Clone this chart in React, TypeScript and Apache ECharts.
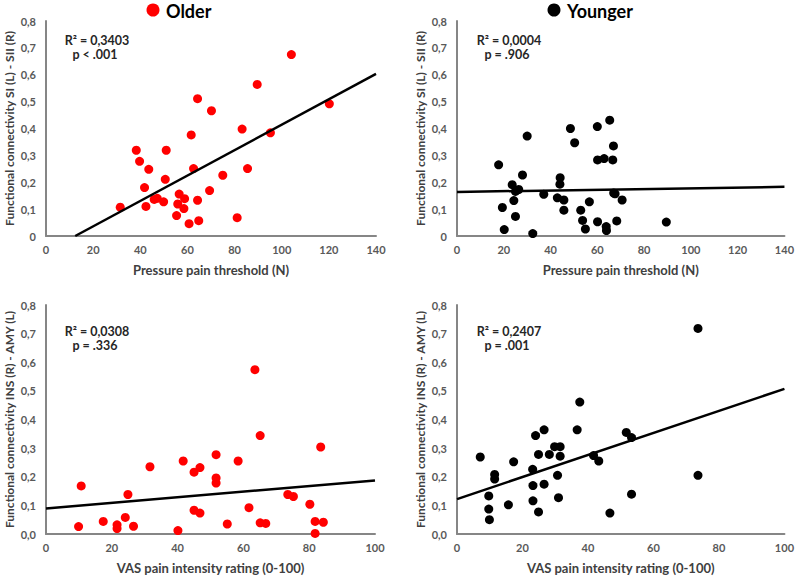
import React, { useEffect, useRef } from "react";
import * as echarts from "echarts";

// Top-left: Older, pressure pain threshold vs FC SI(L)-SII(R)
const olderPptX = [31.5, 38.3, 39.7, 43.6, 41.8, 42.4, 45.9, 47.2, 49.9, 50.6, 51.0, 55.4, 55.9, 56.5, 58.5, 58.8, 60.7, 61.6, 62.6, 64.3, 64.3, 64.8, 69.4, 70.2, 75.0, 81.1, 83.2, 85.5, 89.6, 95.2, 104.1, 120.2];
const olderPptY = [0.107, 0.319, 0.278, 0.248, 0.180, 0.110, 0.136, 0.140, 0.127, 0.211, 0.319, 0.076, 0.119, 0.156, 0.102, 0.139, 0.046, 0.376, 0.251, 0.511, 0.133, 0.057, 0.169, 0.466, 0.226, 0.068, 0.398, 0.251, 0.564, 0.384, 0.675, 0.492];
const olderPptFit = [[12.4, 0.0], [140, 0.603]];

// Top-right: Younger, pressure pain threshold
const youngerPptX = [17.8, 19.4, 20.2, 23.6, 24.3, 25.0, 25.0, 26.4, 28.0, 30.0, 32.4, 37.1, 42.9, 44.0, 44.1, 48.5, 45.7, 45.7, 50.3, 52.9, 53.7, 54.9, 56.6, 60.0, 60.1, 60.1, 62.9, 63.8, 63.9, 65.3, 66.6, 66.9, 67.0, 67.6, 68.3, 70.6, 89.5];
const youngerPptY = [0.265, 0.106, 0.024, 0.191, 0.132, 0.166, 0.073, 0.173, 0.227, 0.372, 0.009, 0.155, 0.142, 0.193, 0.217, 0.400, 0.134, 0.096, 0.347, 0.096, 0.058, 0.026, 0.127, 0.407, 0.283, 0.053, 0.288, 0.035, 0.020, 0.431, 0.283, 0.335, 0.160, 0.157, 0.056, 0.134, 0.052];
const youngerPptFit = [[0, 0.164], [140, 0.183]];

// Bottom-left: Older, VAS vs FC INS(R)-AMY(L)
const olderVasX = [9.9, 10.7, 17.4, 21.6, 21.6, 24.1, 24.9, 26.6, 31.6, 40.1, 41.7, 45.0, 45.0, 46.8, 46.8, 51.7, 51.7, 51.7, 55.1, 58.4, 61.7, 63.5, 65.1, 65.1, 66.8, 73.5, 75.2, 80.2, 81.8, 81.8, 83.5, 84.3];
const olderVasY = [0.026, 0.168, 0.044, 0.032, 0.019, 0.058, 0.138, 0.027, 0.235, 0.012, 0.255, 0.216, 0.083, 0.232, 0.073, 0.277, 0.196, 0.178, 0.035, 0.255, 0.092, 0.574, 0.344, 0.039, 0.037, 0.138, 0.131, 0.104, 0.044, 0.002, 0.304, 0.041];
const olderVasFit = [[0, 0.089], [100, 0.187]];

// Bottom-right: Younger, VAS
const youngerVasX = [7.1, 9.7, 9.7, 9.9, 11.5, 11.5, 15.7, 17.3, 23.1, 23.2, 23.2, 24.0, 24.9, 24.9, 26.6, 26.6, 28.2, 29.8, 30.7, 31.0, 31.5, 31.5, 36.7, 37.5, 41.7, 43.3, 46.7, 51.7, 53.3, 53.3, 73.6, 73.6];
const youngerVasY = [0.269, 0.133, 0.087, 0.050, 0.208, 0.192, 0.102, 0.252, 0.226, 0.169, 0.116, 0.344, 0.278, 0.077, 0.364, 0.174, 0.278, 0.305, 0.205, 0.127, 0.305, 0.272, 0.364, 0.461, 0.274, 0.255, 0.073, 0.355, 0.337, 0.139, 0.718, 0.205];
const youngerVasFit = [[0, 0.122], [100, 0.507]];

const groupLabels = ["Older", "Younger"];
const statTexts = [
  ["R² = 0,3403", "p < .001"],
  ["R² = 0,0004", "p = .906"],
  ["R² = 0,0308", "p = .336"],
  ["R² = 0,2407", "p = .001"],
];
const xTitles = ["Pressure pain threshold (N)", "VAS pain intensity rating (0-100)"];
const yTitles = ["Functional connectivity SI (L) - SII (R)", "Functional connectivity INS (R) - AMY (L)"];

const FONT = "Lato";
const RED = "#ff0000";
const BLACK = "#000000";

function zip(xs: number[], ys: number[]) {
  return xs.map((x, i) => [x, ys[i]]);
}

export default function App() {
  const ref = useRef<HTMLDivElement>(null);
  useEffect(() => {
    if (!ref.current) return;
    const chart = echarts.init(ref.current, undefined, { renderer: "svg" });

    const grids = [
      { left: 46, top: 21, width: 330, height: 215 },
      { left: 457, top: 21, width: 330, height: 215 },
      { left: 46, top: 305, width: 329, height: 229 },
      { left: 457, top: 305, width: 329, height: 229 },
    ];
    const xMax = [140, 140, 100, 100];

    const xAxis = grids.map((_, i) => ({
      type: "value",
      gridIndex: i,
      min: 0,
      max: xMax[i],
      interval: 20,
      name: xTitles[i < 2 ? 0 : 1],
      nameLocation: "middle",
      nameGap: 27,
      nameTextStyle: { fontFamily: FONT, fontWeight: "bold", fontSize: 13, color: "#404040" },
      axisLine: { show: true, lineStyle: { color: "#868686", width: 2 } },
      axisTick: { show: false },
      splitLine: { show: false },
      axisLabel: { fontFamily: FONT, fontWeight: "bold", fontSize: 11, color: "#595959", margin: 8 },
    }));

    const yAxis = grids.map((_, i) => ({
      type: "value",
      gridIndex: i,
      min: 0,
      max: 0.8,
      interval: 0.1,
      name: yTitles[i < 2 ? 0 : 1],
      nameLocation: "middle",
      nameGap: 31,
      nameTextStyle: { fontFamily: FONT, fontWeight: "bold", fontSize: 12, color: "#404040" },
      axisLine: { show: true, lineStyle: { color: "#868686", width: 2 } },
      axisTick: { show: false },
      splitLine: { show: false },
      axisLabel: {
        fontFamily: FONT,
        fontWeight: "bold",
        fontSize: 11,
        color: "#595959",
        margin: 10,
        formatter: (v: number) => (v === 0 && i < 2 ? "0" : v.toFixed(1).replace(".", ",")),
      },
    }));

    const scatterData = [
      zip(olderPptX, olderPptY),
      zip(youngerPptX, youngerPptY),
      zip(olderVasX, olderVasY),
      zip(youngerVasX, youngerVasY),
    ];
    const fits = [olderPptFit, youngerPptFit, olderVasFit, youngerVasFit];
    const colors = [RED, BLACK, RED, BLACK];

    const series: any[] = [];
    grids.forEach((_, i) => {
      series.push({
        type: "scatter",
        xAxisIndex: i,
        yAxisIndex: i,
        data: scatterData[i],
        symbolSize: 9,
        itemStyle: { color: colors[i], opacity: 1 },
        z: 2,
      });
      series.push({
        type: "line",
        xAxisIndex: i,
        yAxisIndex: i,
        data: fits[i],
        showSymbol: false,
        symbol: "none",
        lineStyle: { color: "#000", width: 2.5 },
        z: 3,
      });
    });

    const statPos = [
      [97, 40],
      [509, 40],
      [97, 331],
      [509, 331],
    ];
    const graphic: any[] = [];
    statTexts.forEach((t, i) => {
      graphic.push({
        type: "text",
        x: statPos[i][0],
        y: statPos[i][1],
        style: { text: t[0], font: `bold 12.5px ${FONT}`, fill: "#262626", align: "center", verticalAlign: "middle" },
      });
      graphic.push({
        type: "text",
        x: statPos[i][0] - 2,
        y: statPos[i][1] + 14,
        style: { text: t[1], font: `bold 12.5px ${FONT}`, fill: "#262626", align: "center", verticalAlign: "middle" },
      });
    });
    graphic.push(
      { type: "circle", shape: { cx: 153, cy: 10, r: 6.5 }, style: { fill: RED } },
      { type: "text", x: 166, y: 11, style: { text: groupLabels[0], font: `bold 18px ${FONT}`, fill: "#000", verticalAlign: "middle" } },
      { type: "circle", shape: { cx: 554, cy: 10, r: 6.5 }, style: { fill: BLACK } },
      { type: "text", x: 567, y: 11, style: { text: groupLabels[1], font: `bold 18px ${FONT}`, fill: "#000", verticalAlign: "middle" } }
    );

    chart.setOption({
      animation: false,
      backgroundColor: "#ffffff",
      grid: grids,
      xAxis,
      yAxis,
      series,
      graphic,
    });
    return () => chart.dispose();
  }, []);
  return <div ref={ref} style={{ position: "absolute", left: 0, top: 0, width: 797, height: 576 }} />;
}
